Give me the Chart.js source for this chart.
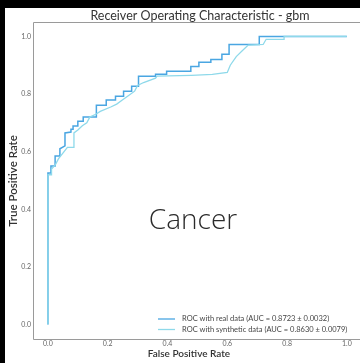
<!DOCTYPE html>
<html>
<head>
<meta charset="utf-8">
<script src="https://cdn.jsdelivr.net/npm/chart.js@4.4.1/dist/chart.umd.min.js"></script>
<style>
  html, body { margin: 0; padding: 0; background: #fff; overflow: hidden; scrollbar-width: none; }
  ::-webkit-scrollbar { display: none; width: 0; height: 0; }
  .edge { position: absolute; background: #000; }
  #edgeTop { left: 0; top: 0; width: 100%; height: 8px; }
  #edgeLeft { left: 0; top: 0; width: 5px; height: 100%; }
  #roc { position: absolute; left: 5px; top: 8px; display: block; }
</style>
</head>
<body>
<div class="edge" id="edgeTop"></div>
<div class="edge" id="edgeLeft"></div>
<canvas id="roc" width="355" height="355"></canvas>
<script>
// Mean ROC curve vertices (false positive rate, true positive rate)
const realFpr = [0, 0, 0.01, 0.01, 0.024, 0.024, 0.04, 0.04, 0.057, 0.057, 0.077, 0.077, 0.084, 0.084, 0.10, 0.10, 0.118, 0.118, 0.162, 0.162, 0.195, 0.195, 0.226, 0.226, 0.253, 0.253, 0.28, 0.28, 0.303, 0.303, 0.36, 0.36, 0.397, 0.397, 0.478, 0.478, 0.505, 0.505, 0.545, 0.545, 0.582, 0.582, 0.606, 0.606, 0.707, 0.707, 1.0];
const realTpr = [0, 0.526, 0.526, 0.55, 0.55, 0.585, 0.585, 0.61, 0.62, 0.665, 0.668, 0.678, 0.678, 0.689, 0.689, 0.706, 0.706, 0.72, 0.72, 0.761, 0.761, 0.779, 0.779, 0.792, 0.792, 0.81, 0.81, 0.827, 0.827, 0.862, 0.862, 0.869, 0.869, 0.879, 0.879, 0.896, 0.896, 0.91, 0.91, 0.92, 0.92, 0.938, 0.938, 0.972, 0.972, 1.0, 1.0];

const synFpr = [0, 0, 0.012, 0.012, 0.025, 0.035, 0.05, 0.065, 0.087, 0.087, 0.10, 0.115, 0.13, 0.14, 0.16, 0.175, 0.21, 0.23, 0.25, 0.27, 0.29, 0.30, 0.32, 0.36, 0.365, 0.48, 0.55, 0.60, 0.61, 0.63, 0.65, 0.67, 0.72, 0.73, 0.79, 0.79, 1.0];
const synTpr = [0, 0.52, 0.52, 0.54, 0.555, 0.575, 0.595, 0.615, 0.615, 0.665, 0.675, 0.69, 0.70, 0.72, 0.73, 0.74, 0.755, 0.765, 0.78, 0.795, 0.81, 0.83, 0.84, 0.855, 0.862, 0.865, 0.868, 0.875, 0.90, 0.93, 0.95, 0.97, 0.972, 0.99, 0.99, 1.0, 1.0];

const seriesLabels = [
  'ROC with real data (AUC = 0.8723 \u00b1 0.0032)',
  'ROC with synthetic data (AUC = 0.8630 \u00b1 0.0079)'
];
const axisTicks = [0.0, 0.2, 0.4, 0.6, 0.8, 1.0];
const chartTitle = 'Receiver Operating Characteristic - gbm';
const xTitle = 'False Positive Rate';
const yTitle = 'True Positive Rate';
const caption = 'Cancer';

const REAL_COLOR = '#4aa6e2';
const SYN_COLOR = '#8ed9ea';

const toPoints = (xs, ys) => xs.map((x, i) => ({ x: x, y: ys[i] }));

// Frame, titles, caption and legend drawn on top of the chart
const decorations = {
  id: 'decorations',
  afterDraw(chart) {
    const ctx = chart.ctx;
    const a = chart.chartArea;
    const L = Math.round(a.left) + 0.5, T = Math.round(a.top) + 0.5, B = Math.round(a.bottom) + 0.5;
    ctx.save();
    ctx.strokeStyle = '#9a9a9a';
    ctx.lineWidth = 1;
    ctx.beginPath();
    ctx.moveTo(chart.width, T);
    ctx.lineTo(L, T);
    ctx.lineTo(L, B);
    ctx.lineTo(chart.width, B);
    ctx.stroke();

    ctx.fillStyle = '#333';
    ctx.textAlign = 'center';
    ctx.textBaseline = 'middle';
    ctx.font = '12.5px Lato';
    ctx.fillText(chartTitle, 195, 8);

    ctx.font = '600 10px Lato';
    ctx.fillText(xTitle, 184, 346);

    ctx.save();
    ctx.translate(8, 173);
    ctx.rotate(-Math.PI / 2);
    ctx.font = '600 11.5px Lato';
    ctx.fillText(yTitle, 0, 0);
    ctx.restore();

    ctx.fillStyle = '#2b2b2b';
    ctx.font = '300 28px "Open Sans"';
    ctx.fillText(caption, 188, 213);

    // legend, lower right inside the axes
    const colors = [REAL_COLOR, SYN_COLOR];
    ctx.font = '7.5px Lato';
    ctx.textAlign = 'left';
    ctx.fillStyle = '#444';
    seriesLabels.forEach((t, i) => {
      const y = 311 + i * 10.5;
      ctx.strokeStyle = colors[i];
      ctx.lineWidth = 1.3;
      ctx.beginPath();
      ctx.moveTo(153, y);
      ctx.lineTo(170, y);
      ctx.stroke();
      ctx.fillText(t, 177, y);
    });
    ctx.restore();
  }
};

new Chart(document.getElementById('roc'), {
  type: 'line',
  data: {
    datasets: [
      {
        label: seriesLabels[0],
        data: toPoints(realFpr, realTpr),
        borderColor: REAL_COLOR,
        borderWidth: 1.5,
        pointRadius: 0,
        fill: false,
        tension: 0,
        order: 2
      },
      {
        label: seriesLabels[1],
        data: toPoints(synFpr, synTpr),
        borderColor: SYN_COLOR,
        borderWidth: 1.3,
        pointRadius: 0,
        fill: false,
        tension: 0,
        order: 1
      }
    ]
  },
  options: {
    responsive: false,
    animation: false,
    layout: { padding: { top: 14, right: 0, left: 0, bottom: 0 } },
    plugins: {
      legend: { display: false },
      title: { display: false },
      tooltip: { enabled: false }
    },
    scales: {
      x: {
        type: 'linear',
        min: -0.05,
        max: 1.044,
        grid: { display: false, drawTicks: false },
        border: { display: false },
        afterFit(scale) { scale.height = 24; scale.paddingRight = 0; scale.paddingLeft = 0; },
        afterBuildTicks(scale) { scale.ticks = axisTicks.map(v => ({ value: v })); },
        ticks: {
          padding: 1,
          maxRotation: 0,
          font: { family: 'Lato', size: 7 },
          color: '#666',
          callback: v => Number(v).toFixed(1)
        }
      },
      y: {
        type: 'linear',
        min: -0.05,
        max: 1.05,
        grid: { display: false, drawTicks: false },
        border: { display: false },
        afterFit(scale) { scale.width = 28; scale.paddingTop = 0; scale.paddingBottom = 0; },
        afterBuildTicks(scale) { scale.ticks = axisTicks.map(v => ({ value: v })); },
        ticks: {
          padding: 2,
          font: { family: 'Lato', size: 7 },
          color: '#666',
          callback: v => Number(v).toFixed(1)
        }
      }
    }
  },
  plugins: [decorations]
});
</script>
</body>
</html>
